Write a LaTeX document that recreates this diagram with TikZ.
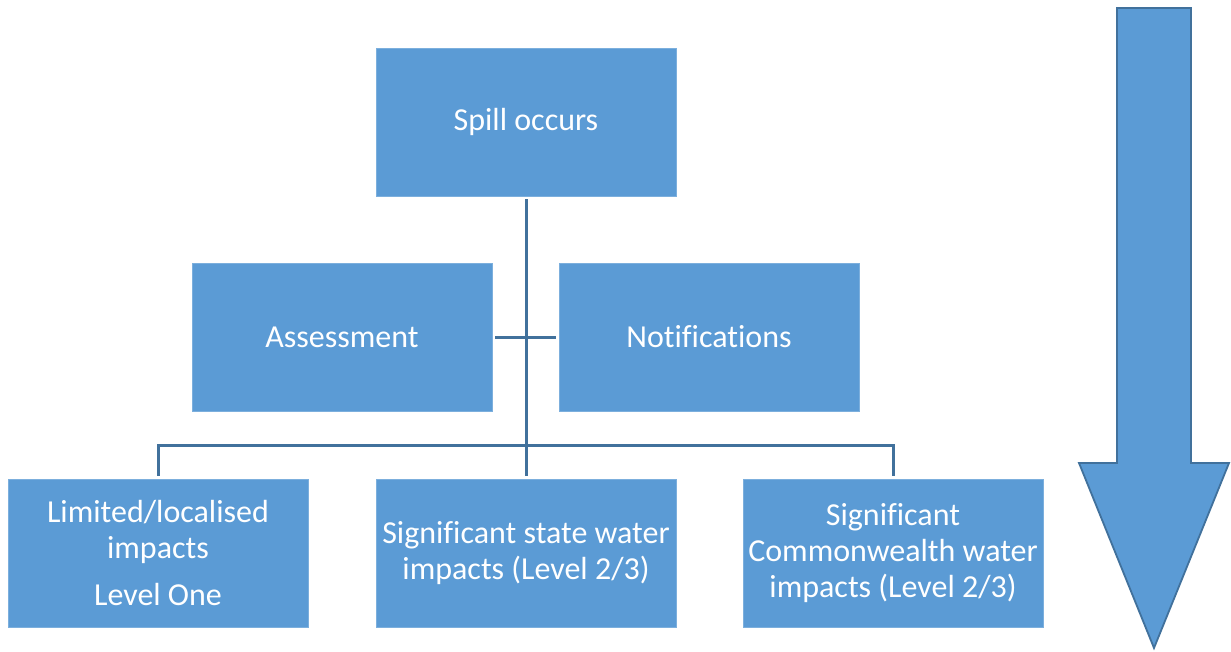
\documentclass[tikz,border=0pt]{standalone}
\usepackage{fontspec}
\setmainfont{Carlito}[Ligatures=NoCommon]
\usepackage{tikz}
\usetikzlibrary{arrows.meta}

\definecolor{boxblue}{RGB}{91,155,213}
\definecolor{lineblue}{RGB}{65,113,156}

\begin{document}
\begin{tikzpicture}[x=1pt,y=-1pt,
		stepbox/.style={rectangle, fill=boxblue, draw=boxblue!80!white, line width=0.6pt,
			minimum width=300pt, minimum height=148pt, inner sep=0pt,
			align=center, text=white, font=\fontsize{32}{36}\selectfont},
		conn/.style={draw=lineblue, line width=3pt}]
		
		% fixes the page to the reference size
		\useasboundingbox (0,0) rectangle (1231,651);
		
		% the boxes
		\node[stepbox] (spill) at (526,122) {Spill occurs};
		\node[stepbox] (assess) at (342,337) {Assessment};
		\node[stepbox] (notif) at (709,337) {Notifications};
		\node[stepbox] (lim) at (158,553) {Limited/localised\\impacts\\[11pt]Level One};
		\node[stepbox] (state) at (526,553) {Significant state water\\impacts (Level 2/3)};
		\node[stepbox] (cw) at (893,553) {Significant\\Commonwealth water\\impacts (Level 2/3)};
		
		% trunk and the short cross bar
		\coordinate (bus) at (526,445);
		\draw[conn] ([yshift=-3pt]spill.south) -- ([yshift=3pt]state.north);
		\draw[conn] ([xshift=3pt]assess.east) -- ([xshift=-3pt]notif.west);
		
		% bar over the three outcomes
		\draw[conn] ([yshift=3pt]lim.north) -- (lim.north |- bus) -- (cw.north |- bus) -- ([yshift=3pt]cw.north);
		
		% big arrow down the right side
		\draw[fill=boxblue, draw=lineblue, line width=1.8pt, line join=miter]
			(1117,8) -- (1191,8) -- (1191,463) -- (1229,463) -- (1154,648)
			-- (1079,463) -- (1117,463) -- cycle;
		
	\end{tikzpicture}
\end{document}
